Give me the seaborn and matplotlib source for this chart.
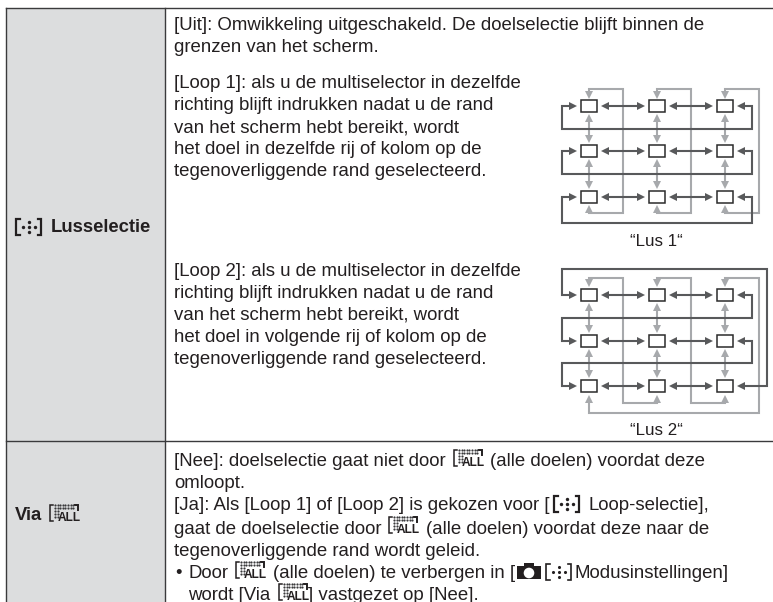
#!/usr/bin/env python3
# -*- coding: utf-8 -*-
# Manual page table: loop selection settings
import matplotlib
matplotlib.use('Agg')
import matplotlib.pyplot as plt
from matplotlib.patches import Rectangle, Circle
import seaborn as sns

sns.set_theme(style='white')
plt.rcParams['font.family'] = ['Liberation Sans', 'DejaVu Sans']

# Texts. Tokens in angle brackets are the little camera icons
uit_lines = ['[Uit]: Omwikkeling uitgeschakeld. De doelselectie blijft binnen de',
             'grenzen van het scherm.']
loop1_lines = ['[Loop 1]: als u de multiselector in dezelfde',
               'richting blijft indrukken nadat u de rand',
               'van het scherm hebt bereikt, wordt',
               'het doel in dezelfde rij of kolom op de',
               'tegenoverliggende rand geselecteerd.']
loop2_lines = ['[Loop 2]: als u de multiselector in dezelfde',
               'richting blijft indrukken nadat u de rand',
               'van het scherm hebt bereikt, wordt',
               'het doel in volgende rij of kolom op de',
               'tegenoverliggende rand geselecteerd.']
via_lines = [['[Nee]: doelselectie gaat niet door', '<ALL>', '(alle doelen) voordat deze'],
             ['omloopt.'],
             ['[Ja]: Als [Loop 1] of [Loop 2] is gekozen voor [', '<AFB>', 'Loop-selectie],'],
             ['gaat de doelselectie door', '<ALL>', '(alle doelen) voordat deze naar de'],
             ['tegenoverliggende rand wordt geleid.'],
             ['•', 'Door', '<ALL>', '(alle doelen) te verbergen in [', '<CAM>', '<AF>', 'Modusinstellingen]'],
             ['wordt [Via', '<ALL>', '] vastgezet op [Nee].']]
caption1 = '“Lus 1“'
caption2 = '“Lus 2“'
label_loop = 'Lusselectie'
label_via = 'Via'

# Layout of the page, in pixels
LEFT, DIV, RIGHT, TOP, SPLIT, BOTTOM = 6, 165, 775, 8, 441, 602
TXT_X = 174
uit_y = [23, 45]
loop1_y = [82, 104, 126, 147, 169]
loop2_y = [270, 292, 313, 335, 357]
via_y = [460, 482, 504, 527, 549, 572, 594]
# where each run of via_lines starts
via_x = [[174, 453, 490],
         [174],
         [174, 553, 588],
         [174, 388, 426],
         [174],
         [175, 188, 235, 273, 517, 545, 575],
         [188, 278, 308]]
col_x = [588.7, 656.7, 725]
row1_y = [106, 151, 197]
row2_y = [295, 341, 386]

TEXT = '#231f20'
DARK = '#58595b'
GREY = '#a7a9ac'
CELL = '#dcddde'
FS = 13.45

fig = plt.figure(figsize=(7.73, 6.02), dpi=100)
ax = fig.add_axes([0, 0, 1, 1])


def path(xs, ys, color, lw=1.5):
    sns.lineplot(x=xs, y=ys, sort=False, estimator=None, color=color, linewidth=lw, ax=ax,
                 solid_capstyle='projecting', solid_joinstyle='miter', legend=False)


def head(x, y, kind, color):
    ax.plot([x], [y], marker=kind, ms=5.2, color=color, mew=0, zorder=4)


def hline_arrow(x0, x1, y, color=DARK):
    # double headed horizontal
    path([x0, x1], [y, y], color)
    head(x0, y, '<', color)
    head(x1, y, '>', color)


def vline_arrow(x, y0, y1, color=GREY):
    path([x, x], [y0, y1], color)
    head(x, y0, '^', color)
    head(x, y1, 'v', color)


def boxes(rows):
    for y in rows:
        for x in col_x:
            ax.add_patch(Rectangle((x - 8, y - 6), 16, 12, fc='white', ec='#2b2b2b', lw=1.1, zorder=5))


def inner_arrows(rows):
    for a, b in zip(rows[:-1], rows[1:]):
        for x in col_x:
            vline_arrow(x, a + 12, b - 12)
    for y in rows:
        for a, b in zip(col_x[:-1], col_x[1:]):
            hline_arrow(a + 16, b - 16, y)


def lus1():
    top, low = 89, 213
    for x, r in zip(col_x, [622.7, 691, 759]):
        path([x, x, r, r, x, x], [94, top, top, low, low, 209], GREY)
        head(x, 94.5, 'v', GREY)
        head(x, 209, '^', GREY)
    inner_arrows(row1_y)
    for y, line in zip(row1_y, [129, 174, 223]):
        path([573, 562, 562, 752, 752, 741], [y, y, line, line, y, y], DARK)
        head(573, y, '>', DARK)
        head(741, y, '<', DARK)
    boxes(row1_y)


def lus2():
    top, low = 278, 403
    path([col_x[0], col_x[0], 622.7, 622.7, col_x[1], col_x[1]], [283, top, top, low, low, 399], GREY)
    path([col_x[1], col_x[1], 691, 691, col_x[2], col_x[2]], [283, top, top, low, low, 399], GREY)
    path([col_x[2], col_x[2], 759, 759, col_x[0], col_x[0]], [283, top, top, 413, 413, 399], GREY)
    for x in col_x:
        head(x, 283, 'v', GREY)
        head(x, 399, '^', GREY)
    inner_arrows(row2_y)
    path([573, 562, 562, 767, 767, 741], [295, 295, 269, 269, 386, 386], DARK)
    path([573, 562, 562, 752, 752, 741], [341, 341, 318, 318, 295, 295], DARK)
    path([573, 562, 562, 752, 752, 741], [386, 386, 363, 363, 341, 341], DARK)
    for y in row2_y:
        head(573, y, '>', DARK)
        head(741, y, '<', DARK)
    boxes(row2_y)


def put(x, y, s, **kw):
    kw.setdefault('fontsize', FS)
    kw.setdefault('color', TEXT)
    return ax.text(x, y, s, va='center_baseline', ha='left', zorder=6, **kw)


def icon_af(x, y, bold=False):
    # bracket, dots, bracket
    w = 27
    lw = 1.6 if bold else 1.2
    for sx, d in ((x + 1, 3.5), (x + w - 1, -3.5)):
        path([sx + d, sx, sx, sx + d], [y - 8, y - 8, y + 8, y + 8], TEXT, lw=lw)
    ax.scatter([x + 7.5, x + w / 2, x + w / 2, x + w / 2, x + w - 7.5], [y, y - 5, y, y + 5, y],
               s=6 if bold else 5, color=TEXT, linewidths=0, zorder=6)


def icon_all(x, y):
    w = 30
    path([x + 4, x + 1, x + 1, x + 4], [y - 10, y - 10, y + 6, y + 6], TEXT, lw=1.1)
    path([x + w - 4, x + w - 1, x + w - 1], [y - 10, y - 10, y - 5], TEXT, lw=1.4)
    xs = [x + 6 + i * 2.6 for i in range(8)]
    ax.scatter(xs * 2, [y - 10] * 8 + [y - 7.5] * 8, s=2.5, color='#3a3a3c', linewidths=0, zorder=6)
    ax.scatter(xs[:2] * 3, [y - 4.5] * 2 + [y - 1.5] * 2 + [y + 1.5] * 2, s=2.5, color='#3a3a3c',
               linewidths=0, zorder=6)
    ax.text(x + 9, y + 6.3, 'ALL', fontsize=8.6, fontweight='bold', color=TEXT, ha='left', va='baseline', zorder=6)


def icon_cam(x, y):
    ax.add_patch(Rectangle((x, y - 6), 24, 13, fc=TEXT, ec='none', zorder=6))
    ax.add_patch(Rectangle((x + 7, y - 9), 10, 4, fc=TEXT, ec='none', zorder=6))
    ax.add_patch(Circle((x + 12, y + 1), 5.3, fc='white', ec='none', zorder=7))


def text_line(y, parts, starts):
    for x, p in zip(starts, parts):
        if p == '<ALL>':
            icon_all(x, y)
        elif p == '<AF>':
            icon_af(x, y)
        elif p == '<AFB>':
            icon_af(x, y, bold=True)
        elif p == '<CAM>':
            icon_cam(x, y)
        else:
            put(x, y, p)


# table
ax.add_patch(Rectangle((LEFT, TOP), DIV - LEFT, BOTTOM + 5 - TOP, fc=CELL, ec='none', zorder=0))
path([LEFT, RIGHT], [TOP, TOP], '#3a3a3c', lw=1.0)
path([LEFT, RIGHT], [SPLIT, SPLIT], '#3a3a3c', lw=1.0)
path([LEFT, LEFT], [TOP, BOTTOM + 5], '#3a3a3c', lw=1.0)
path([DIV, DIV], [TOP, BOTTOM + 5], '#3a3a3c', lw=1.0)

# row headers
icon_af(15, 227, bold=True)
put(51, 226, label_loop, fontweight='bold', fontsize=13.3)
put(15, 513, label_via, fontweight='bold', fontsize=13.3)
icon_all(49, 515)

# body text
for y, s in zip(uit_y, uit_lines):
    put(TXT_X, y, s)
for y, s in zip(loop1_y, loop1_lines):
    put(TXT_X, y, s)
for y, s in zip(loop2_y, loop2_lines):
    put(TXT_X, y, s)
for y, parts, starts in zip(via_y, via_lines, via_x):
    text_line(y, parts, starts)

lus1()
lus2()
put(630, 240, caption1, fontsize=12.2)
put(630, 429, caption2, fontsize=12.2)

ax.set_xlim(0, 773)
ax.set_ylim(602, 0)
ax.axis('off')
fig.savefig('out.png', dpi=100)
